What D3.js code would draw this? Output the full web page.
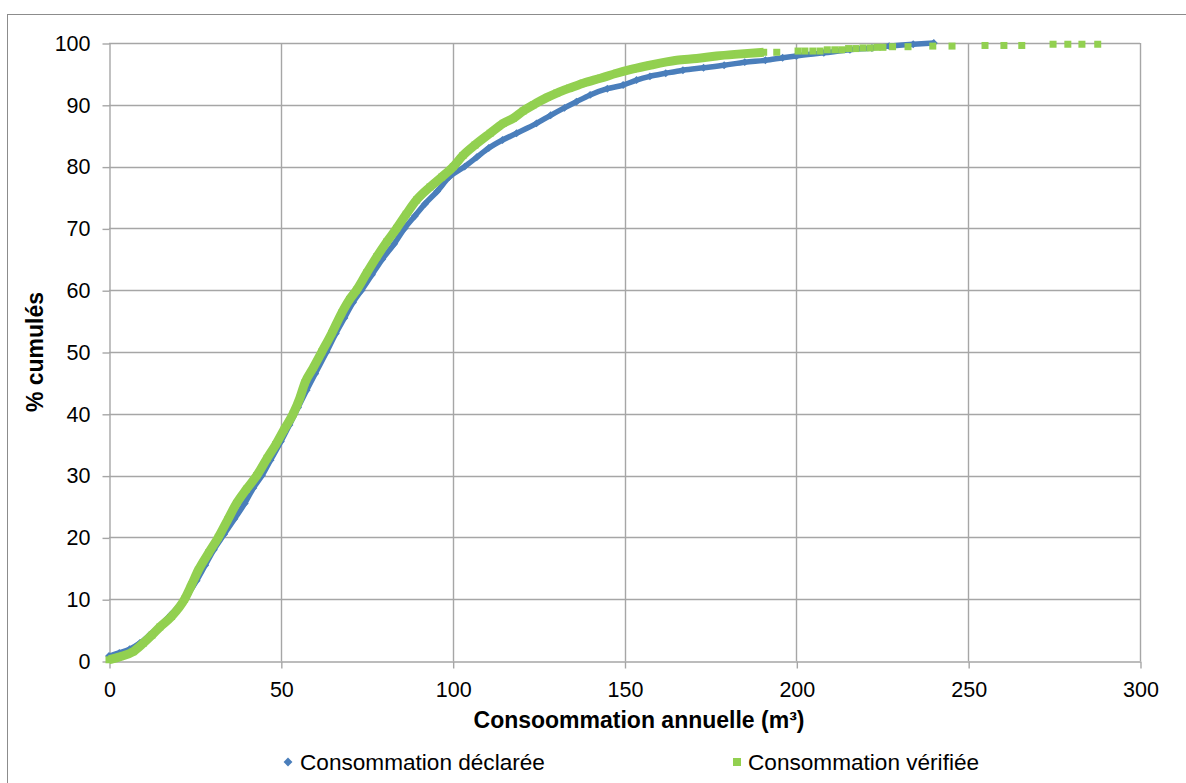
<!DOCTYPE html>
<html><head><meta charset="utf-8">
<script src="https://cdn.jsdelivr.net/npm/d3@7"></script>
<style>
html,body{margin:0;padding:0;background:#fff;}
svg{display:block;font-family:"Liberation Sans",Arial,sans-serif;}
</style></head><body>
<svg id="chart" width="1186" height="783"></svg>
<script>
// ---- data ----
const seriesNames = ["Consommation déclarée", "Consommation vérifiée"];
const declareeX = [0,3,6,9,12,15,18,21,23,25.5,28,30.5,33.5,36.5,39.5,42,44.5,47,50,52.5,55,57.5,60,63.3,66,68.5,71,73.5,76.5,79.5,83,86,89,92,95.5,99,103.5,107,110.5,114.5,118.6,124.4,128.5,132.5,136,140,145,149.6,153.5,157.4,162,167,173,179,185,191,196,200,208,215.6,222,227,234,240];
const declareeY = [0.8,1.3,1.9,2.9,4.3,5.8,7.5,9.3,10.8,13,15.5,18,20.5,23,25.5,28,30,32.5,35.5,38.2,41,43.8,46.5,50,53,55.5,58,60,62.5,65,67.5,70,72,74,76,78.3,80,81.5,83,84.3,85.4,87,88.3,89.5,90.5,91.6,92.6,93.2,94,94.6,95.1,95.6,96,96.4,96.9,97.2,97.6,97.9,98.4,98.9,99.2,99.5,99.8,100];
const verifieeX = [0,3.2,7,10,12.5,14.8,18.2,22,24,26,29,31.8,34.5,37.1,40,43,46,48.5,51,53.6,55.5,57,59.5,61.9,64.8,67.7,70,72,75,77.9,80.8,83.7,86.5,89.5,93.4,96.8,100.2,103,106.5,110.9,114.7,117.6,120.5,123.5,127.5,130.3,134,138,143,147.7,152.5,157.4,165.2,171,176.8,183,190.5];
const verifieeY = [0.2,0.7,1.5,2.9,4.2,5.5,7.2,10,12.3,14.7,17.5,20,22.8,25.5,27.8,30,32.8,35,37.5,40,42.5,45,47.5,50,53,56.3,58.5,60,62.8,65.4,67.8,70,72.3,74.6,76.7,78.3,80,81.8,83.5,85.4,87,87.8,89,90,91.2,91.9,92.7,93.5,94.3,95.1,95.8,96.4,97.2,97.5,97.9,98.2,98.5];
const verifieeTailX = [194.3,200.5,202.5,204.8,206.9,209,211.2,213.2,215.2,217.3,219.4,221.5,223.5,225.2,228,232.5,239.7,245.3,254.9,260.4,265.6,274.7,279,283.1,287.7];
const verifieeTailY = [98.5,98.7,98.7,98.7,98.7,98.9,98.9,98.9,99.1,99.1,99.2,99.2,99.3,99.3,99.4,99.4,99.5,99.5,99.6,99.6,99.6,99.8,99.8,99.8,99.8];
const xTicks = [0,50,100,150,200,250,300];
const yTicks = [0,10,20,30,40,50,60,70,80,90,100];
const xTitle = "Consoommation annuelle (m³)";
const yTitle = "% cumulés";

// ---- drawing ----
const BLUE = "#4a7ebb", GREEN = "#92d050", GRID = "#a6a6a6";
const svg = d3.select("#chart");
const x = d3.scaleLinear().domain([0, 300]).range([109, 1140]);
const y = d3.scaleLinear().domain([0, 100]).range([661, 43]);

// outer chart border
svg.append("rect").attr("x", 7.5).attr("y", 14.5).attr("width", 1300).attr("height", 900)
  .attr("fill", "none").attr("stroke", "#8c8c8c").attr("stroke-width", 1);

// gridlines
const grid = svg.append("g");
grid.selectAll("line.h").data(yTicks.filter(d => d > 0)).join("line")
  .attr("x1", x(0)).attr("x2", x(300)).attr("y1", d => Math.round(y(d)) + 0.5).attr("y2", d => Math.round(y(d)) + 0.5)
  .attr("stroke", GRID).attr("stroke-width", 1.4);
grid.selectAll("line.v").data(xTicks.filter(d => d > 0)).join("line")
  .attr("y1", y(0)).attr("y2", y(100)).attr("x1", d => Math.round(x(d)) + 0.5).attr("x2", d => Math.round(x(d)) + 0.5)
  .attr("stroke", GRID).attr("stroke-width", 1.4);

// axes
const yAxis = svg.append("g").attr("transform", "translate(109.5,0.5)")
  .call(d3.axisLeft(y).tickValues(yTicks).tickSize(7).tickSizeOuter(0).tickPadding(12));
const xAxis = svg.append("g").attr("transform", "translate(0.5,661.5)")
  .call(d3.axisBottom(x).tickValues(xTicks).tickSize(7).tickSizeOuter(0).tickPadding(13));
[yAxis, xAxis].forEach(a => {
  a.selectAll("path,line").attr("stroke", GRID).attr("stroke-width", 1.4);
  a.selectAll("text").attr("fill", "#000").style("font-size", "21.5px").style("font-family", '"Liberation Sans",Arial,sans-serif');
});

// series: declared (blue diamonds)
const decl = declareeX.map((d, i) => [d, declareeY[i]]);
const verif = verifieeX.map((d, i) => [d, verifieeY[i]]);
const tail = verifieeTailX.map((d, i) => [d, verifieeTailY[i]]);
const line = d3.line().x(d => x(d[0])).y(d => y(d[1])).curve(d3.curveMonotoneX);

svg.append("path").attr("d", line(decl)).attr("fill", "none").attr("stroke", BLUE)
  .attr("stroke-width", 5.5).attr("stroke-linejoin", "round");
svg.append("g").selectAll("path").data(decl).join("path")
  .attr("d", d3.symbol(d3.symbolDiamond2, 40)).attr("transform", d => `translate(${x(d[0])},${y(d[1])})`)
  .attr("fill", BLUE);

// series: verified (green squares)
svg.append("path").attr("d", line(verif)).attr("fill", "none").attr("stroke", GREEN)
  .attr("stroke-width", 9).attr("stroke-linejoin", "round");
svg.append("g").selectAll("rect").data(verif.concat(tail)).join("rect")
  .attr("x", d => x(d[0]) - 3.5).attr("y", d => y(d[1]) - 3.5).attr("width", 7).attr("height", 7)
  .attr("fill", GREEN);

// titles
svg.append("text").attr("x", 639).attr("y", 728).attr("text-anchor", "middle")
  .style("font-size", "23px").style("font-weight", "bold").text(xTitle);
svg.append("text").attr("transform", "translate(43,352) rotate(-90)").attr("text-anchor", "middle")
  .style("font-size", "23px").style("font-weight", "bold").text(yTitle);

// legend
const legend = svg.append("g");
legend.append("path").attr("d", d3.symbol(d3.symbolDiamond2, 50)).attr("transform", "translate(288,762)").attr("fill", BLUE);
legend.append("text").attr("x", 300).attr("y", 770).style("font-size", "22.6px").text(seriesNames[0]);
legend.append("rect").attr("x", 733).attr("y", 758).attr("width", 8).attr("height", 8).attr("fill", GREEN);
legend.append("text").attr("x", 748).attr("y", 770).style("font-size", "22.6px").text(seriesNames[1]);
</script>
</body></html>
